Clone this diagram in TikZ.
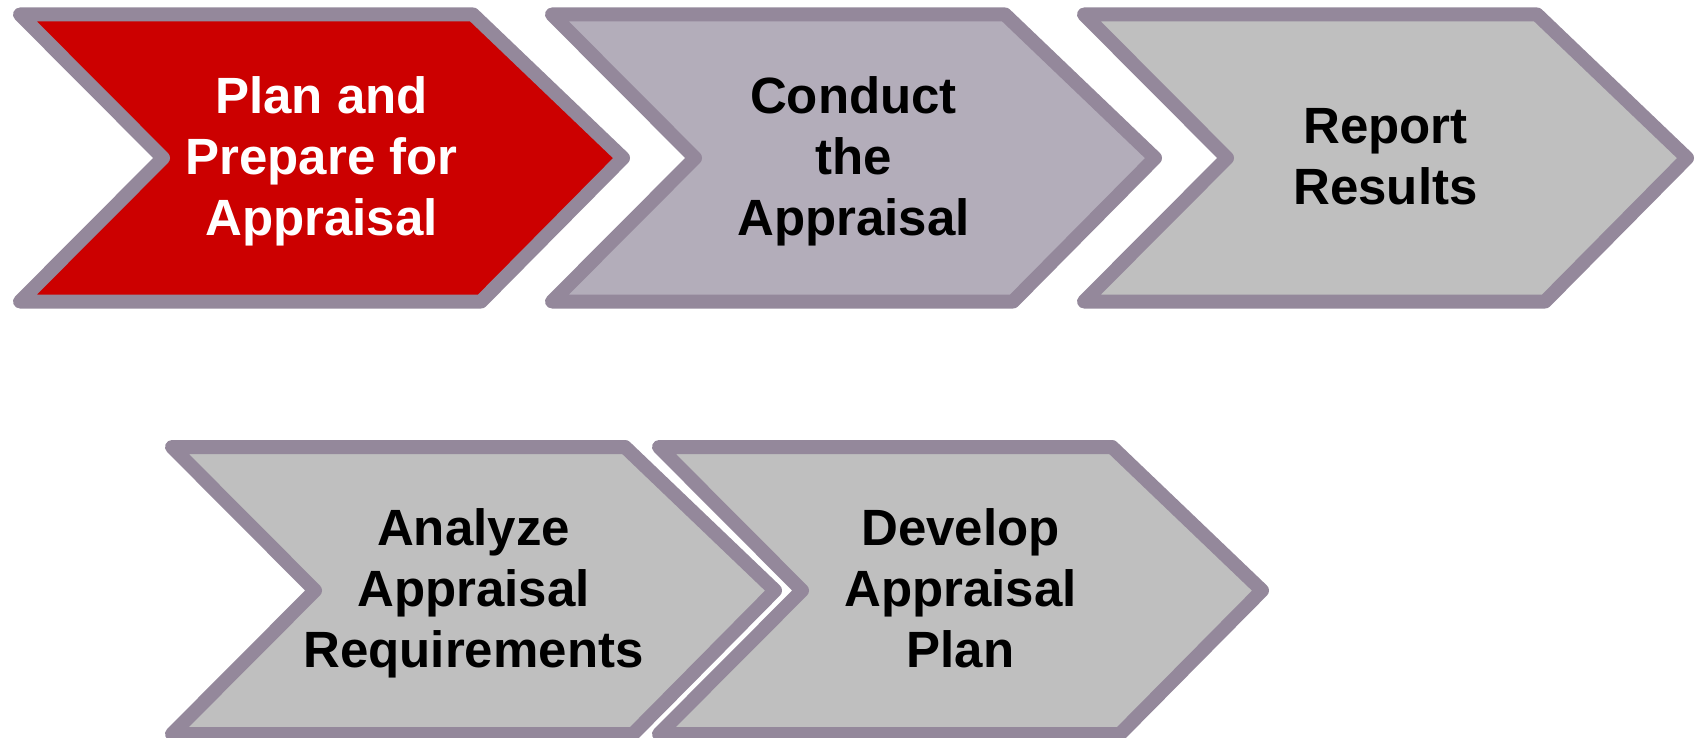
\documentclass[tikz,border=0pt]{standalone}
\usepackage{fontspec}
\setmainfont{Liberation Sans}
\definecolor{chevline}{RGB}{148,136,155}
\definecolor{chevred}{RGB}{204,0,0}
\definecolor{chevlilac}{RGB}{179,173,186}
\definecolor{chevgrey}{RGB}{191,191,191}
\tikzset{
  chevstroke/.style={draw=chevline, line width=14pt, line join=round},
  chevtext/.style={align=center, inner sep=0pt, font=\fontsize{51}{61}\selectfont\bfseries},
}
\newcommand{\chevronstep}[6]{%
  \draw[chevstroke, fill=#4] (#2,#3) -- ++(453,0) -- ++(150,143.5) -- ++(-142,143.5)
     -- ++(-461,0) -- ++(143,-143.5) -- cycle;
  \node[chevtext, text=#5] (#1) at (#2+301.5,#3+147.5) {#6};
}
\begin{document}
\begin{tikzpicture}[x=1pt, y=-1pt]
\useasboundingbox (0,0) rectangle (1697,738);
\chevronstep{plan}{20}{14.5}{chevred}{white}{\strut Plan and\\\strut Prepare for\\\strut Appraisal}
\chevronstep{conduct}{552}{14.5}{chevlilac}{black}{\strut Conduct\\\strut the\\\strut Appraisal}
\chevronstep{report}{1084}{14.5}{chevgrey}{black}{\strut Report\\\strut Results}
\chevronstep{analyze}{172}{447}{chevgrey}{black}{\strut Analyze\\\strut Appraisal\\\strut Requirements}
\chevronstep{develop}{659}{447}{chevgrey}{black}{\strut Develop\\\strut Appraisal\\\strut Plan}
\end{tikzpicture}
\end{document}
